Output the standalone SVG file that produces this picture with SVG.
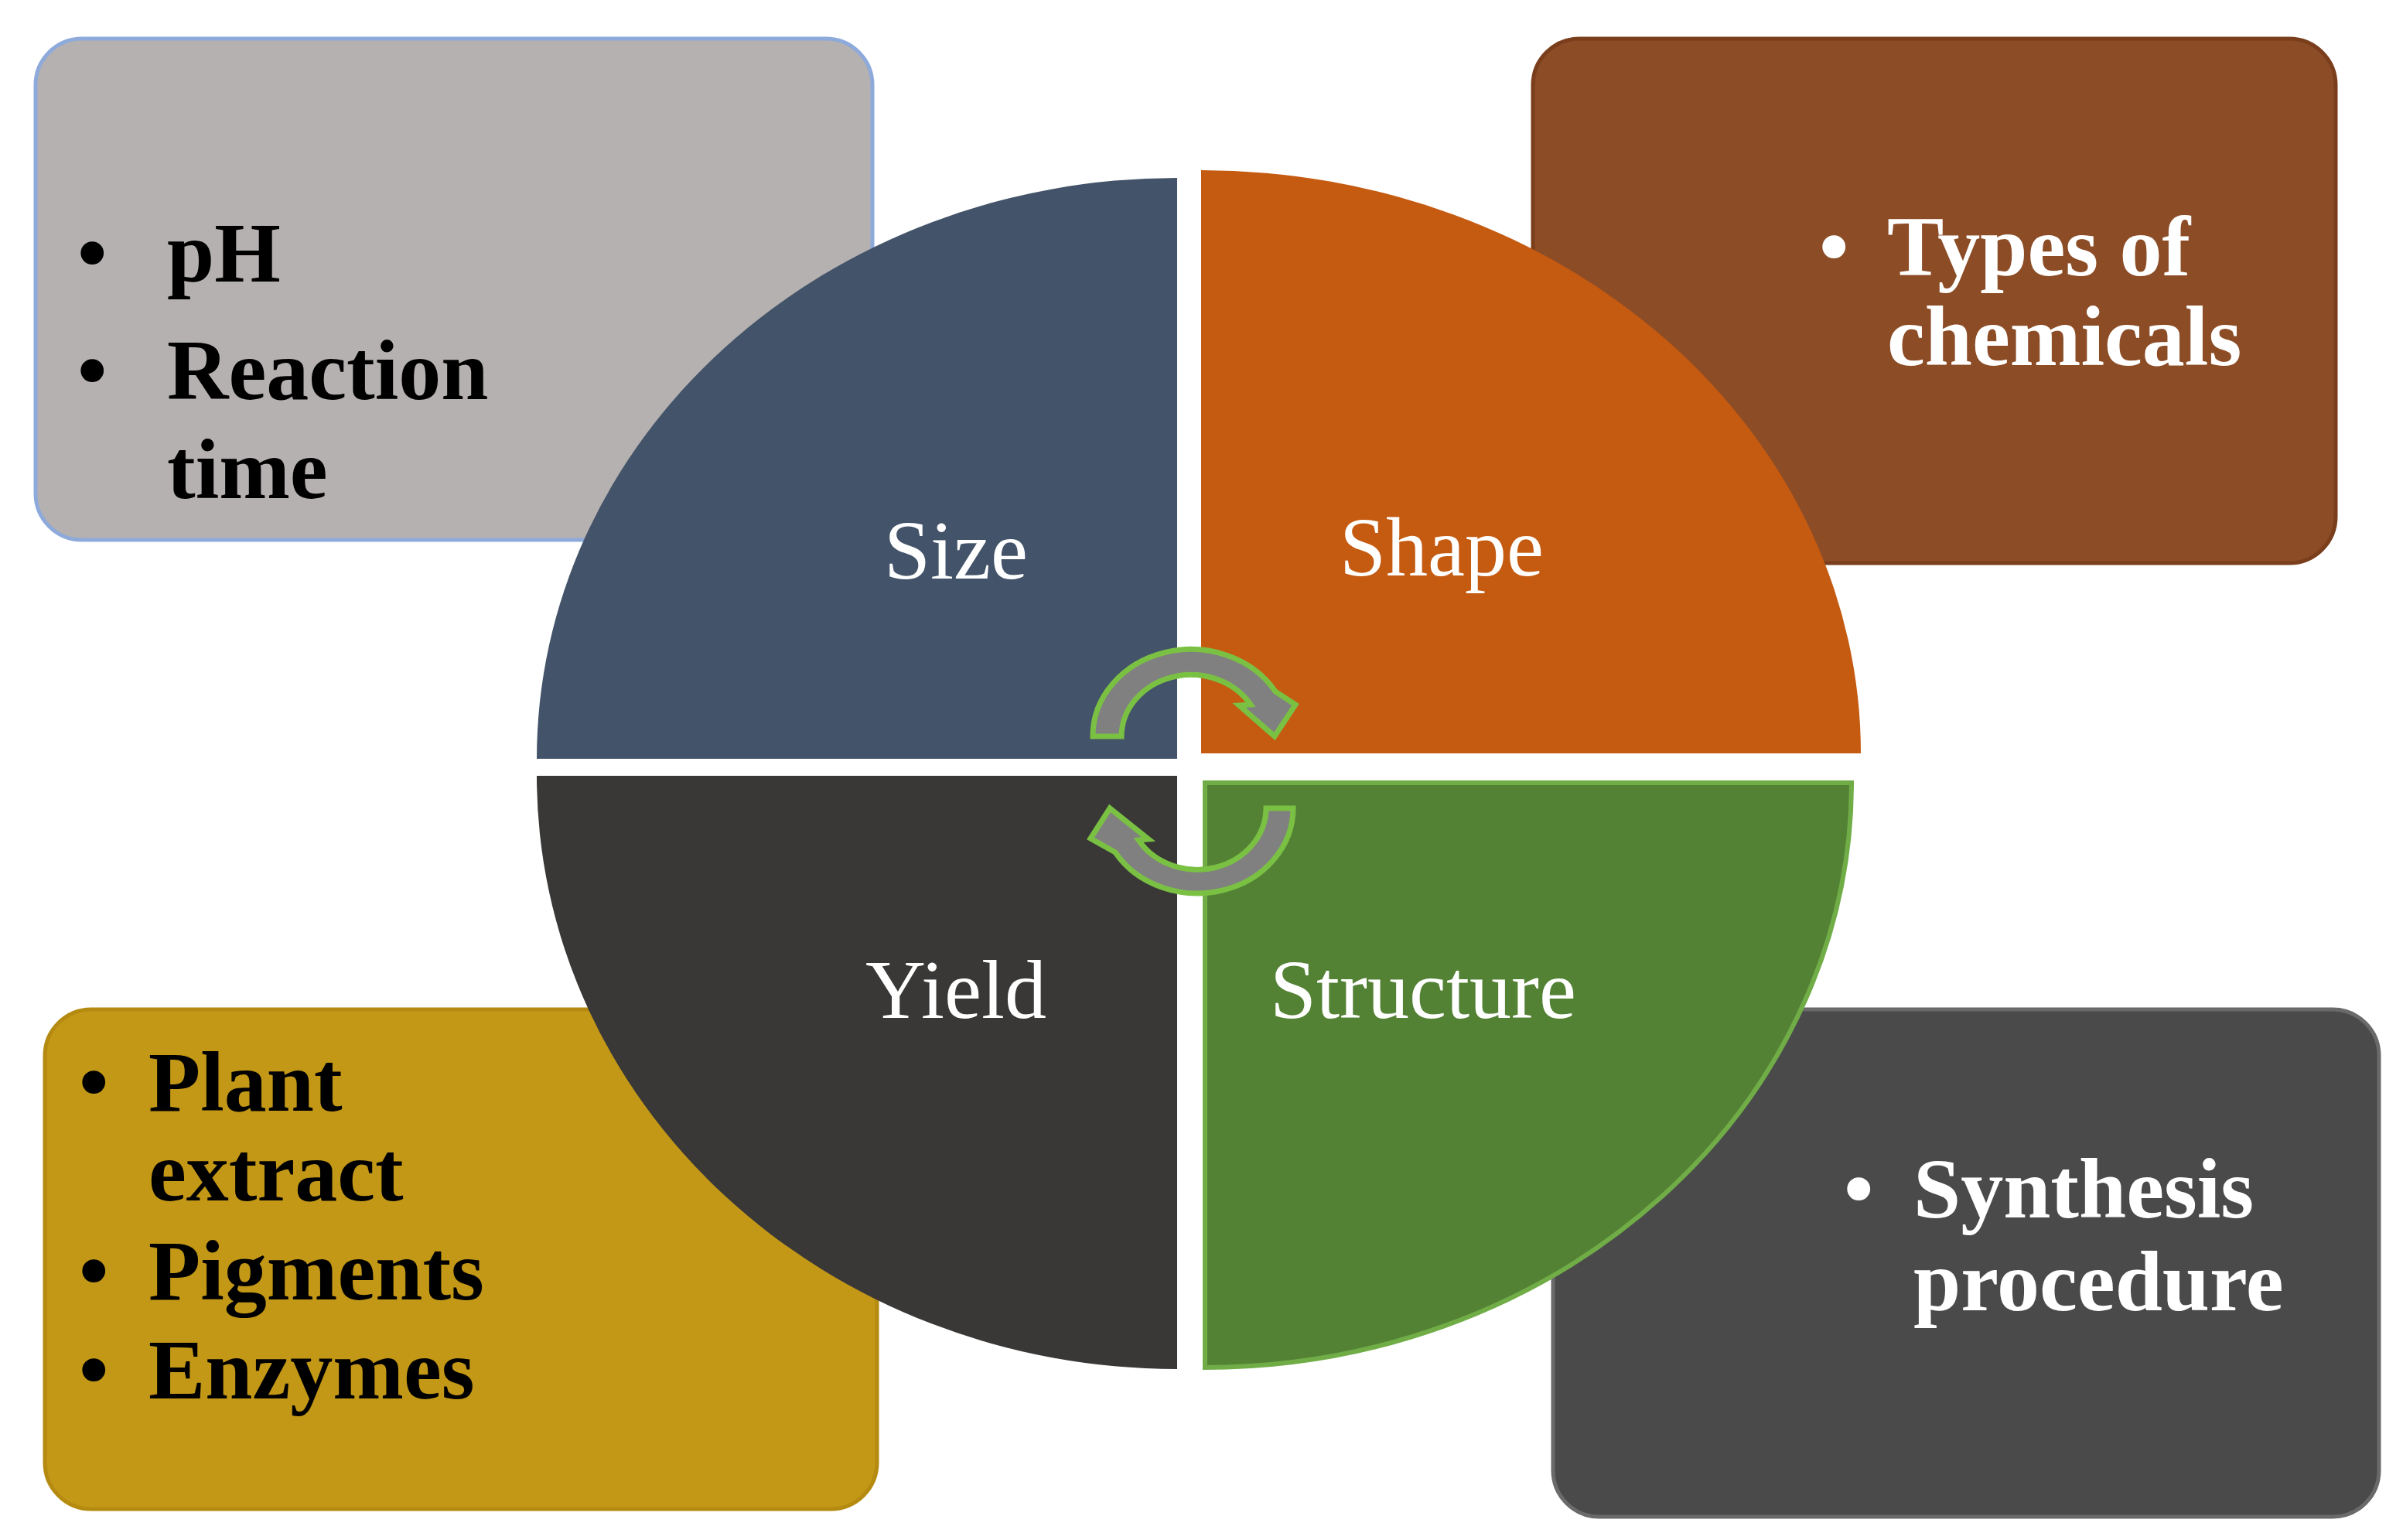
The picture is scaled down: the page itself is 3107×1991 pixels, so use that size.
<svg xmlns="http://www.w3.org/2000/svg" width="3107" height="1991" viewBox="0 0 3107 1991">
<style>
.bx{font-family:"Liberation Serif",serif;font-weight:bold;font-size:110px}
.q{font-family:"Liberation Serif",serif;font-size:108px;fill:#fff;text-anchor:middle}
.arr{fill:#808080;stroke:#7ac143;stroke-width:7;stroke-linejoin:miter}
</style>
<rect width="3107" height="1991" fill="#fff"/>
<g id="box-tl"><rect x="46" y="50" width="1082" height="648" rx="60" fill="#b5b1b0" stroke="#8eaadb" stroke-width="5"/>
<g class="bx" fill="#000"><text x="100" y="364">•</text><text x="216" y="364">pH</text><text x="100" y="516">•</text><text x="216" y="516">Reaction</text><text x="216" y="644">time</text></g></g>
<g id="box-tr"><rect x="1982" y="50" width="1038" height="678" rx="60" fill="#8b4c26" stroke="#7a3e1c" stroke-width="5"/>
<g class="bx" fill="#fff"><text x="2352" y="356">•</text><text x="2440" y="356">Types of</text><text x="2440" y="472">chemicals</text></g></g>
<g id="box-bl"><rect x="58" y="1305" width="1076" height="646" rx="60" fill="#c39817" stroke="#b58a10" stroke-width="5"/>
<g class="bx" fill="#000"><text x="102" y="1436">•</text><text x="192" y="1436">Plant</text><text x="192" y="1552">extract</text><text x="102" y="1680">•</text><text x="192" y="1680">Pigments</text><text x="102" y="1808">•</text><text x="192" y="1808">Enzymes</text></g></g>
<g id="box-br"><rect x="2008" y="1305" width="1068" height="656" rx="60" fill="#4b4a4b" stroke="#6a6a6a" stroke-width="5"/>
<g class="bx" fill="#fff"><text x="2384" y="1574">•</text><text x="2474" y="1574">Synthesis</text><text x="2474" y="1694">procedure</text></g></g>
<g id="q-size"><path d="M1522,981 L694,981 A828,751 0 0 1 1522,230 Z" fill="#435369"/><text class="q" x="1236" y="748">Size</text></g>
<g id="q-shape"><path d="M1553,974 L1553,220 A853,754 0 0 1 2406,974 Z" fill="#c55a11"/><text class="q" x="1864" y="744">Shape</text></g>
<g id="q-yield"><path d="M1522,1003 L1522,1770 A828,767 0 0 1 694,1003 Z" fill="#393837"/><text class="q" x="1236" y="1316">Yield</text></g>
<g id="q-structure"><path d="M1558,1012 L2394,1012 A836,756 0 0 1 1558,1768 Z" fill="#548235" stroke="#70ad47" stroke-width="6"/><text class="q" x="1840" y="1316">Structure</text></g>
<g id="connectors">
<path class="arr" d="M1413,952 A127,112 0 0 1 1649,894 L1675,911 L1648,952 L1602,912 L1617,911 A90,80 0 0 0 1450,952 Z"/>
<path class="arr" d="M1672,1045 A124,110 0 0 1 1442,1102 L1410,1084 L1435,1045 L1485,1085 L1472,1086 A89,80 0 0 0 1637,1045 Z"/>
</g>
</svg>
